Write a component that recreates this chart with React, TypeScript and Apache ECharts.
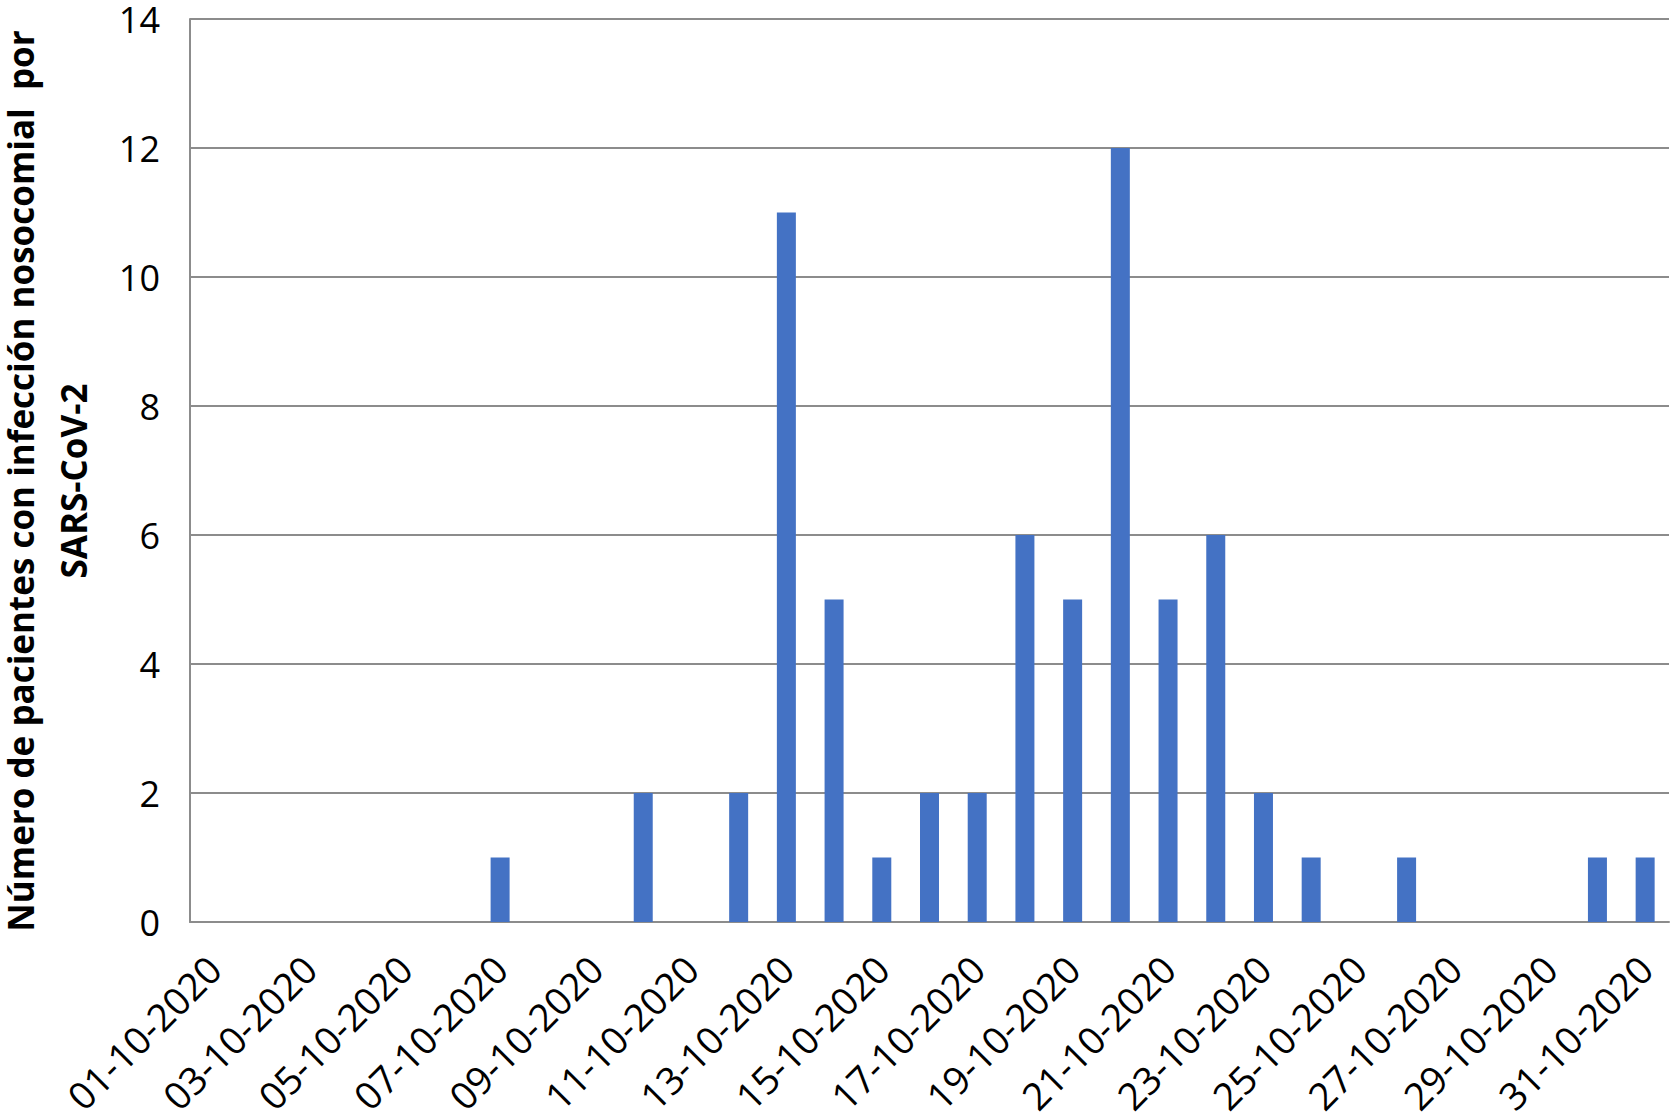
import React, { useEffect, useRef } from "react";
import * as echarts from "echarts";

const dates: string[] = [
  "01-10-2020", "02-10-2020", "03-10-2020", "04-10-2020", "05-10-2020", "06-10-2020",
  "07-10-2020", "08-10-2020", "09-10-2020", "10-10-2020", "11-10-2020", "12-10-2020",
  "13-10-2020", "14-10-2020", "15-10-2020", "16-10-2020", "17-10-2020", "18-10-2020",
  "19-10-2020", "20-10-2020", "21-10-2020", "22-10-2020", "23-10-2020", "24-10-2020",
  "25-10-2020", "26-10-2020", "27-10-2020", "28-10-2020", "29-10-2020", "30-10-2020",
  "31-10-2020",
];
const patients: number[] = [
  0, 0, 0, 0, 0, 0,
  1, 0, 0, 2, 0, 2,
  11, 5, 1, 2, 2, 6,
  5, 12, 5, 6, 2, 1,
  0, 1, 0, 0, 0, 1,
  1,
];
const yTitleLine1 = "Número de pacientes con infección nosocomial  por";
const yTitleLine2 = "SARS-CoV-2";

export default function App() {
  const ref = useRef<HTMLDivElement>(null);
  useEffect(() => {
    if (!ref.current) return;
    const chart = echarts.init(ref.current, undefined, { renderer: "svg" });
    const font = "'Open Sans', 'Liberation Sans', sans-serif";
    const titleStyle = {
      font: `bold 35px ${font}`,
      fill: "#000000",
      textAlign: "center",
      textVerticalAlign: "middle",
      lineHeight: 34,
    };
    chart.setOption({
      animation: false,
      backgroundColor: "#ffffff",
      grid: { left: 190, right: 6, top: 19, bottom: 198, containLabel: false },
      xAxis: {
        type: "category",
        data: dates,
        boundaryGap: true,
        axisLine: { show: true, lineStyle: { color: "#8c8c8c", width: 2 } },
        axisTick: { show: false },
        axisLabel: {
          interval: 1,
          rotate: 45,
          margin: 40,
          color: "#000000",
          fontSize: 38,
          fontFamily: font,
        },
        splitLine: { show: false },
      },
      yAxis: {
        type: "value",
        min: 0,
        max: 14,
        interval: 2,
        axisLine: { show: true, lineStyle: { color: "#8c8c8c", width: 2 } },
        axisTick: { show: false },
        axisLabel: {
          color: "#000000",
          fontSize: 36,
          lineHeight: 28,
          fontFamily: font,
          margin: 30,
        },
        splitLine: { show: true, lineStyle: { color: "#8c8c8c", width: 2 } },
      },
      graphic: [
        {
          type: "text",
          x: 20,
          y: 481,
          rotation: Math.PI / 2,
          style: { ...titleStyle, text: yTitleLine1 },
        },
        {
          type: "text",
          x: 73,
          y: 481,
          rotation: Math.PI / 2,
          style: { ...titleStyle, text: yTitleLine2 },
        },
      ],
      series: [
        {
          type: "bar",
          data: patients,
          barWidth: 19,
          itemStyle: { color: "#4472C4" },
        },
      ],
    });
    return () => chart.dispose();
  }, []);
  return (
    <div
      ref={ref}
      style={{ position: "fixed", left: 0, top: 0, width: 1675, height: 1120 }}
    />
  );
}
